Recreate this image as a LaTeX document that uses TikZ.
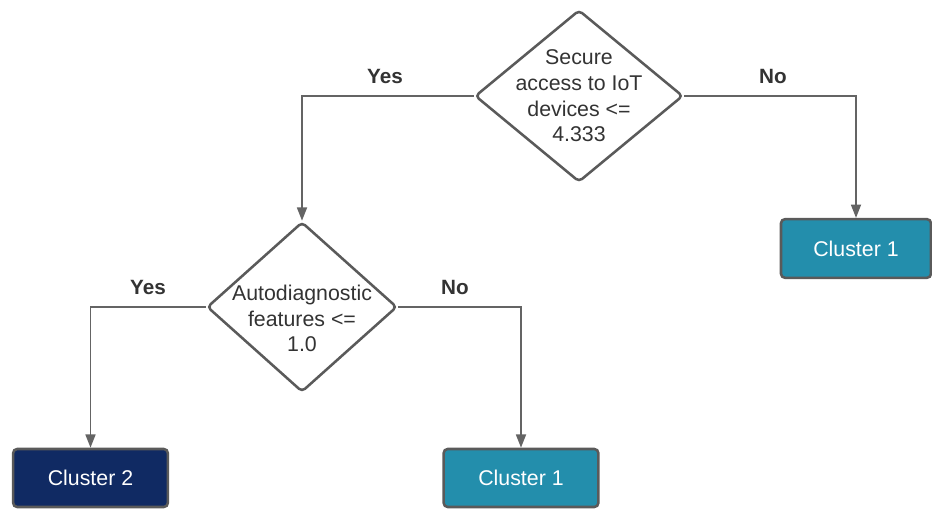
\documentclass[tikz,border=0pt]{standalone}
\usepackage{fontspec}
\setmainfont{Liberation Sans}
\usetikzlibrary{shapes.geometric,arrows.meta}
\definecolor{clteal}{RGB}{35,142,172}
\definecolor{clnavy}{RGB}{16,42,99}
\definecolor{edgegray}{RGB}{90,90,90}
\definecolor{linegray}{RGB}{100,100,100}
\definecolor{txtgray}{RGB}{51,51,51}
\begin{document}
\begin{tikzpicture}[x=0.75pt,y=0.75pt,yscale=-1,xscale=1,
	font=\fontsize{16}{19.3}\selectfont,
	decision/.style={diamond,draw=edgegray,line width=1.9pt,rounded corners=3pt,fill=white,text=txtgray,align=center,inner xsep=-12pt,inner ysep=-14pt},
	leaf/.style={rectangle,draw=edgegray,line width=1.9pt,rounded corners=3pt,text=white,minimum width=116pt,minimum height=43.5pt},
	branch/.style={draw=linegray,line width=1.3pt,-{Triangle[length=10pt,width=7.5pt]}},
	answer/.style={font=\fontsize{15.5}{18}\selectfont\bfseries,text=txtgray}]
	\useasboundingbox (0,0) rectangle (932,509);
	
	%Shape: Diamond [id:q1]
	\node [decision,minimum width=156pt,minimum height=129pt] (q1) at (579,96) {Secure\\access to IoT\\devices <=\\4.333};
	%Shape: Diamond [id:q2] (text sits a little low in its diamond)
	\node [decision,minimum width=142.5pt,minimum height=127.5pt] (q2) at (302,307) {\rule{0pt}{29pt}Autodiagnostic\\features <=\\1.0};
	
	%Shape: Rectangle [id:c1a]
	\node [leaf,fill=clteal,minimum width=112.5pt,minimum height=44pt] (c1a) at (856,248.5) {Cluster 1};
	%Shape: Rectangle [id:c2]
	\node [leaf,fill=clnavy] (c2) at (90.5,478) {Cluster 2};
	%Shape: Rectangle [id:c1b]
	\node [leaf,fill=clteal] (c1b) at (521,478) {Cluster 1};
	
	%Straight Lines
	\draw [branch] (q1.west) -| (q2.north);
	\draw [branch] (q1.east) -| (c1a.north);
	\draw [branch] (q2.west) -| (c2.north);
	\draw [branch] (q2.east) -| (c1b.north);
	
	% Text Node
	\node [answer] (yes1) at (385,76) {Yes};
	% Text Node
	\node [answer] (no1) at (773,76) {No};
	% Text Node
	\node [answer] (yes2) at (148,287) {Yes};
	% Text Node
	\node [answer] (no2) at (455,287) {No};
	
\end{tikzpicture}
\end{document}
